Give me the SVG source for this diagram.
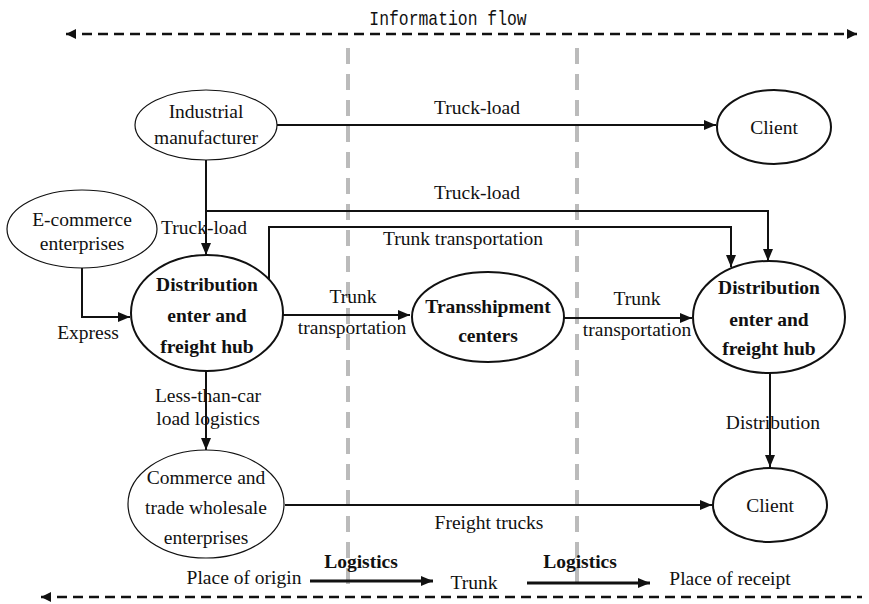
<svg xmlns="http://www.w3.org/2000/svg" width="869" height="604" viewBox="0 0 869 604">
<defs>
<marker id="ah" viewBox="0 0 12 10" refX="12" refY="5" markerWidth="12" markerHeight="10" markerUnits="userSpaceOnUse" orient="auto-start-reverse"><path d="M0,0 L12,5 L0,10 Z" fill="#111"/></marker>
<marker id="ahs" viewBox="0 0 10 10" refX="10" refY="5" markerWidth="10" markerHeight="10" markerUnits="userSpaceOnUse" orient="auto-start-reverse"><path d="M0,0 L10,5 L0,10 Z" fill="#111"/></marker>
</defs>
<style>
text{font-family:"Liberation Serif","Times New Roman",serif;font-size:19.5px;fill:#111;text-anchor:middle}
.b{font-weight:bold}
.mono{font-family:"Liberation Mono","Courier New",monospace;font-size:20px}
.thin{fill:#fff;stroke:#111;stroke-width:1.2}
.bold{fill:#fff;stroke:#111;stroke-width:2}
.c{fill:none;stroke:#111;stroke-width:2}
.thick{fill:none;stroke:#111;stroke-width:3}
.dash{fill:none;stroke:#111;stroke-width:2.5;stroke-dasharray:10 6}
.gray{fill:none;stroke:#bbb;stroke-width:4;stroke-dasharray:16 10}
</style>
<rect width="869" height="604" fill="#fff"/>
<g id="zones">
<line class="gray" x1="348" y1="48" x2="348" y2="593"/>
<line class="gray" x1="577" y1="48" x2="577" y2="593"/>
</g>
<g id="info-flow">
<text class="mono" transform="translate(448,25) scale(0.82,1)">Information flow</text>
<path class="dash" d="M66,34 H857" marker-start="url(#ahs)" marker-end="url(#ahs)"/>
<path class="dash" d="M41,597 H862" marker-start="url(#ahs)"/>
</g>
<g id="connectors">
<path class="c" d="M277,125 H716" marker-end="url(#ah)"/>
<path class="c" d="M206,160 V255" marker-end="url(#ah)"/>
<path class="c" d="M206,211 H768 V261" marker-end="url(#ah)"/>
<path class="c" d="M269,280 V227 H731 V267" marker-end="url(#ah)"/>
<path class="c" d="M82,268 V317 H130" marker-end="url(#ah)"/>
<path class="c" d="M283,315 H410" marker-end="url(#ah)"/>
<path class="c" d="M564,318 H692" marker-end="url(#ah)"/>
<path class="c" d="M206,371 V450" marker-end="url(#ah)"/>
<path class="c" d="M770,373 V467" marker-end="url(#ah)"/>
<path class="c" d="M285,505 H712" marker-end="url(#ah)"/>
<path class="thick" d="M310,581 H433" marker-end="url(#ah)"/>
<path class="thick" d="M527,583 H650" marker-end="url(#ah)"/>
<text x="477" y="114">Truck-load</text>
<text x="477" y="199">Truck-load</text>
<text x="204" y="234">Truck-load</text>
<text x="463" y="245">Trunk transportation</text>
<text x="88" y="339">Express</text>
<text x="353" y="303">Trunk</text>
<text x="352" y="334">transportation</text>
<text x="637" y="305">Trunk</text>
<text x="637" y="336">transportation</text>
<text x="208" y="402">Less-than-car</text>
<text x="208" y="425">load logistics</text>
<text x="773" y="429">Distribution</text>
<text x="489" y="529">Freight trucks</text>
<text x="244" y="584">Place of origin</text>
<text class="b" x="361" y="568">Logistics</text>
<text x="474" y="589">Trunk</text>
<text class="b" x="580" y="568">Logistics</text>
<text x="730" y="585">Place of receipt</text>
</g>
<g id="industrial-manufacturer">
<ellipse class="thin" cx="206" cy="125" rx="71" ry="35"/>
<text x="206" y="118">Industrial</text>
<text x="206" y="144">manufacturer</text>
</g>
<g id="client-top">
<ellipse class="bold" cx="774" cy="127" rx="57" ry="37"/>
<text x="774" y="134">Client</text>
</g>
<g id="e-commerce">
<ellipse class="thin" cx="82" cy="229" rx="75" ry="39"/>
<text x="82" y="226">E-commerce</text>
<text x="82" y="250">enterprises</text>
</g>
<g id="distribution-left">
<ellipse class="bold" cx="207" cy="313" rx="76" ry="58"/>
<text class="b" x="207" y="291">Distribution</text>
<text class="b" x="207" y="322">enter and</text>
<text class="b" x="207" y="353">freight hub</text>
</g>
<g id="transshipment">
<ellipse class="bold" cx="488" cy="317" rx="76" ry="45"/>
<text class="b" x="488" y="313">Transshipment</text>
<text class="b" x="488" y="342">centers</text>
</g>
<g id="distribution-right">
<ellipse class="bold" cx="769" cy="317" rx="76" ry="56"/>
<text class="b" x="769" y="294">Distribution</text>
<text class="b" x="769" y="326">enter and</text>
<text class="b" x="769" y="355">freight hub</text>
</g>
<g id="commerce-wholesale">
<ellipse class="thin" cx="206" cy="504" rx="78" ry="54"/>
<text x="206" y="484">Commerce and</text>
<text x="206" y="514">trade wholesale</text>
<text x="206" y="544">enterprises</text>
</g>
<g id="client-bottom">
<ellipse class="bold" cx="770" cy="505" rx="57" ry="37"/>
<text x="770" y="512">Client</text>
</g>
</svg>
